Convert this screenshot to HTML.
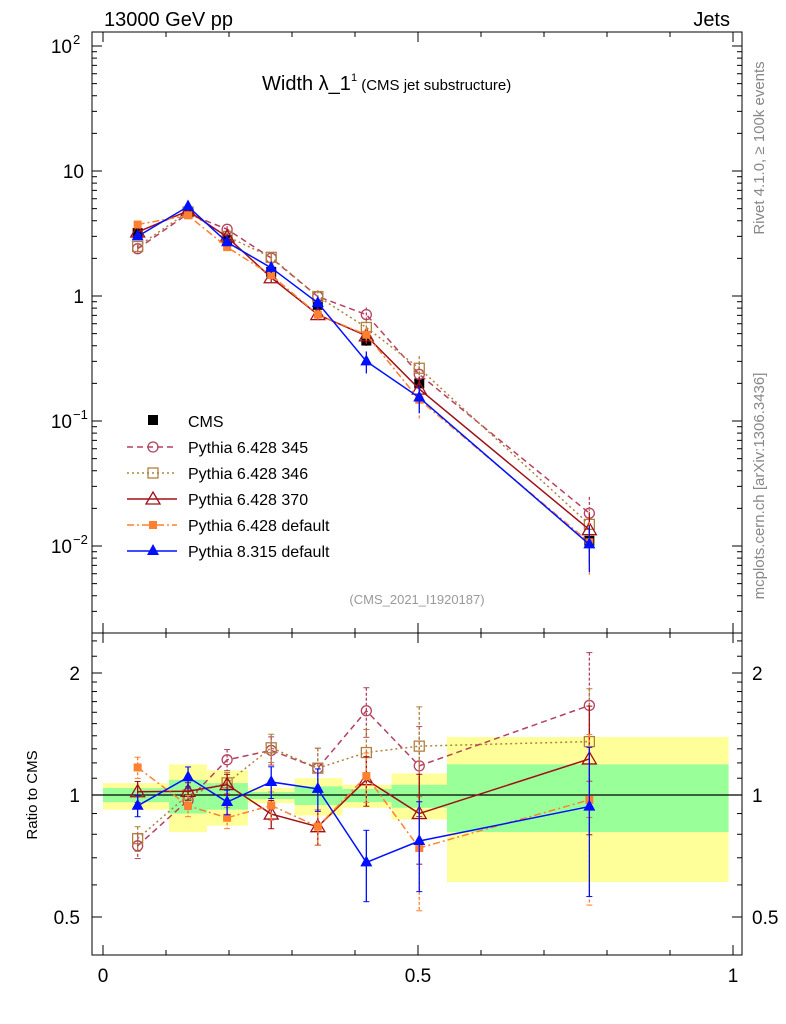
<!DOCTYPE html>
<html><head><meta charset="utf-8"><style>
body{margin:0;background:#fff;}
svg{display:block;font-family:"Liberation Sans","DejaVu Sans",sans-serif;}
</style></head><body>
<svg id="c" width="786" height="1024" viewBox="0 0 786 1024"></svg>
<script>
const xCenters=[0.055,0.135,0.197,0.267,0.341,0.418,0.502,0.772];
const binEdges=[0,0.105,0.165,0.230,0.304,0.380,0.458,0.546,0.993];
const cmsVals=[3.19,4.7,2.8,1.56,0.85,0.44,0.2,0.011];
const cmsErr=[0.15,0.3,0.15,0.06,0.05,0.04,0.02,0.004];
const p345=[2.39,4.56,3.42,2.01,0.99,0.71,0.236,0.0183];
const p346=[2.49,4.7,3.0,2.04,0.99,0.56,0.264,0.0149];
const p370=[3.25,4.8,2.97,1.40,0.71,0.48,0.18,0.0135];
const p6def=[3.73,4.42,2.46,1.47,0.71,0.49,0.148,0.0107];
const p8def=[3.0,5.2,2.69,1.68,0.88,0.30,0.154,0.0103];
const relErr345=[0.07,0.05,0.06,0.08,0.12,0.14,0.25,0.35];
const relErr346=[0.07,0.05,0.06,0.08,0.12,0.14,0.25,0.35];
const relErr370=[0.06,0.05,0.06,0.08,0.1,0.14,0.25,0.35];
const relErr6=[0.06,0.06,0.06,0.08,0.1,0.14,0.3,0.45];
const relErr8=[0.06,0.06,0.07,0.09,0.12,0.2,0.25,0.4];
const yellowHi=[1.07,1.19,1.15,1.04,1.10,1.06,1.13,1.39];
const yellowLo=[0.92,0.81,0.84,0.955,0.89,0.93,0.87,0.61];
const greenHi=[1.04,1.09,1.07,1.017,1.05,1.035,1.06,1.19];
const greenLo=[0.96,0.90,0.92,0.977,0.945,0.96,0.93,0.81];
const mainTicks=["10^-2","10^-1","1","10","10^2"];

const svg=document.getElementById('c');const NS='http://www.w3.org/2000/svg';
function el(t,a,p){const e=document.createElementNS(NS,t);for(const k in a)e.setAttribute(k,a[k]);(p||svg).appendChild(e);return e;}
const X=v=>103+630*v;
const Ym=v=>296-125*Math.log10(v);
const Yr=v=>795-122*Math.log2(v);
const L=92,R=742,T=32,MB=633,RB=955;

// ratio bands
for(let i=0;i<8;i++){
 const y=el('rect',{x:X(binEdges[i]),y:Yr(yellowHi[i]),width:X(binEdges[i+1])-X(binEdges[i]),height:Yr(yellowLo[i])-Yr(yellowHi[i]),fill:'#ffff99'});
 
 const g=el('rect',{x:X(binEdges[i]),y:Yr(greenHi[i]),width:X(binEdges[i+1])-X(binEdges[i]),height:Yr(greenLo[i])-Yr(greenHi[i]),fill:'#99ff99'});
 
}
el('line',{x1:L,x2:R,y1:Yr(1),y2:Yr(1),stroke:'#000','stroke-width':1.2});

// frames
el('rect',{x:L,y:T,width:R-L,height:MB-T,fill:'none',stroke:'#000','stroke-width':1});
el('rect',{x:L,y:MB,width:R-L,height:RB-MB,fill:'none',stroke:'#000','stroke-width':1});

// main log ticks
for(let d=-3;d<=2;d++){for(let m=1;m<10;m++){const v=m*Math.pow(10,d);const y=Ym(v);if(y<T||y>MB)continue;const len=m==1?10:5;
 el('line',{x1:L,x2:L+len,y1:y,y2:y,stroke:'#000'});el('line',{x1:R,x2:R-len,y1:y,y2:y,stroke:'#000'});}}
const labs=[[0.01,'10','−2'],[0.1,'10','−1'],[1,'1',''],[10,'10',''],[100,'10','2']];
labs.forEach(l=>{const t=el('text',{x:l[2]?72:84,y:Ym(l[0])+7,'font-size':19,'text-anchor':'end'});t.textContent=l[1];
 
 if(l[2]){const s=el('text',{x:73,y:Ym(l[0])-2,'font-size':13});s.textContent=l[2];}});
// ratio ticks
[0.5,0.6,0.7,0.8,0.9,1,2].forEach(v=>{const y=Yr(v);const len=(v==0.5||v==1||v==2)?10:5;
 el('line',{x1:L,x2:L+len,y1:y,y2:y,stroke:'#000'});el('line',{x1:R,x2:R-len,y1:y,y2:y,stroke:'#000'});});
for(let k=0;k<12;k++){const v=0.4+0.1*k;}
[1.1,1.2,1.3,1.4,1.5,1.6,1.7,1.8,1.9,2.2,2.4].forEach(v=>{const y=Yr(v);if(y<MB)return;el('line',{x1:L,x2:L+5,y1:y,y2:y,stroke:'#000'});el('line',{x1:R,x2:R-5,y1:y,y2:y,stroke:'#000'});});
[[0.5,'0.5'],[1,'1'],[2,'2']].forEach(l=>{const a=el('text',{x:80,y:Yr(l[0])+7,'font-size':19,'text-anchor':'end'});a.textContent=l[1];
 const b=el('text',{x:752,y:Yr(l[0])+7,'font-size':19});b.textContent=l[1];});
// x ticks
for(let k=0;k<=10;k++){const x=X(k/10);const len=(k%5==0)?10:5;
 el('line',{x1:x,x2:x,y1:MB,y2:MB-len,stroke:'#000'});el('line',{x1:x,x2:x,y1:MB,y2:MB+len,stroke:'#000'});
 el('line',{x1:x,x2:x,y1:RB,y2:RB-len,stroke:'#000'});el('line',{x1:x,x2:x,y1:T,y2:T+len,stroke:'#000'});}
[[0,'0'],[0.5,'0.5'],[1,'1']].forEach(l=>{const t=el('text',{x:X(l[0]),y:982,'font-size':19,'text-anchor':'middle'});t.textContent=l[1];
 });

// texts
function txt(s,a,name){const t=el('text',a);t.textContent=s;return t;}
txt('13000 GeV pp',{x:104,y:26,'font-size':20},'header-beam');
txt('Jets',{x:730,y:26,'font-size':20,'text-anchor':'end'},'header-group');
const tt=txt('',{x:262,y:90,'font-size':20},'plot-title');tt.innerHTML='Width λ_1<tspan font-size="11" dy="-9">1</tspan><tspan font-size="15" dy="9"> (CMS jet substructure)</tspan>';
txt('(CMS_2021_I1920187)',{x:417,y:604,'font-size':13,fill:'#999','text-anchor':'middle'},'analysis-id');
txt('Ratio to CMS',{x:0,y:0,'font-size':15,'text-anchor':'middle',transform:'translate(37,795) rotate(-90)'},'y-axis-title');
txt('Rivet 4.1.0, ≥ 100k events',{x:0,y:0,'font-size':15,fill:'#888','text-anchor':'middle',transform:'translate(764,148) rotate(-90)'},'rivet-label');
txt('mcplots.cern.ch [arXiv:1306.3436]',{x:0,y:0,'font-size':15,fill:'#888','text-anchor':'middle',transform:'translate(764,486) rotate(-90)'},'mcplots-label');

// markers
function marker(kind,x,y,col,g){
 if(kind=='sq')el('rect',{x:x-5,y:y-5,width:10,height:10,fill:col},g);
 else if(kind=='osq')el('rect',{x:x-5,y:y-5,width:10,height:10,fill:'none',stroke:col,'stroke-width':1.3},g);
 else if(kind=='oc')el('circle',{cx:x,cy:y,r:5,fill:'none',stroke:col,'stroke-width':1.3},g);
 else if(kind=='otri')el('path',{d:`M${x},${y-7}L${x+7},${y+5}L${x-7},${y+5}Z`,fill:'none',stroke:col,'stroke-width':1.3},g);
 else if(kind=='ssq')el('rect',{x:x-4,y:y-4,width:8,height:8,fill:col},g);
 else if(kind=='tri')el('path',{d:`M${x},${y-7}L${x+6},${y+4}L${x-6},${y+4}Z`,fill:col},g);
}
const series=[
 {name:'Pythia 6.428 345',vals:p345,err:relErr345,col:'#b5415f',dash:'6,4',m:'oc',sn:'series-p6-345'},
 {name:'Pythia 6.428 346',vals:p346,err:relErr346,col:'#b08040',dash:'2,3',m:'osq',sn:'series-p6-346'},
 {name:'Pythia 6.428 370',vals:p370,err:relErr370,col:'#a01018',dash:'',m:'otri',sn:'series-p6-370'},
 {name:'Pythia 6.428 default',vals:p6def,err:relErr6,col:'#ff8030',dash:'7,3,2,3',m:'ssq',sn:'series-p6-default'},
 {name:'Pythia 8.315 default',vals:p8def,err:relErr8,col:'#0010ff',dash:'',m:'tri',sn:'series-p8-default'}];

// CMS data main
const cg=el('g',{});
cmsVals.forEach((v,i)=>{el('line',{x1:X(xCenters[i]),x2:X(xCenters[i]),y1:Ym(v+cmsErr[i]),y2:Ym(Math.max(v-cmsErr[i],1e-4)),stroke:'#000','stroke-width':1.3},cg);marker('sq',X(xCenters[i]),Ym(v),'#000',cg);});

series.forEach(s=>{
 const g=el('g',{});
 const pm=s.vals.map((v,i)=>X(xCenters[i])+','+Ym(v)).join(' ');
 el('polyline',{points:pm,fill:'none',stroke:s.col,'stroke-width':1.5,'stroke-dasharray':s.dash},g);
 const pr=s.vals.map((v,i)=>X(xCenters[i])+','+Yr(v/cmsVals[i])).join(' ');
 el('polyline',{points:pr,fill:'none',stroke:s.col,'stroke-width':1.5,'stroke-dasharray':s.dash},g);
 s.vals.forEach((v,i)=>{const x=X(xCenters[i]);const e=s.err[i];
  el('line',{x1:x,x2:x,y1:Ym(v*(1+e)),y2:Ym(v*(1-e)),stroke:s.col,'stroke-width':1.3,'stroke-dasharray':s.dash?'3,2':''},g);
  const r=v/cmsVals[i];
  el('line',{x1:x,x2:x,y1:Yr(r*(1+e)),y2:Yr(r*(1-e)),stroke:s.col,'stroke-width':1.3,'stroke-dasharray':s.dash?'3,2':''},g);
  [Yr(r*(1+e)),Yr(r*(1-e))].forEach(yy=>el('line',{x1:x-3,x2:x+3,y1:yy,y2:yy,stroke:s.col},g));
  marker(s.m,x,Ym(v),s.col,g);marker(s.m,x,Yr(r),s.col,g);});
});

// legend
const lg=el('g',{});
marker('sq',153,420,'#000',lg);const lt=el('text',{x:188,y:427,'font-size':16},lg);lt.textContent='CMS';
series.forEach((s,i)=>{const y=447+26*i;
 const e=el('g',{},lg);
 el('line',{x1:127,x2:177,y1:y,y2:y,stroke:s.col,'stroke-width':1.5,'stroke-dasharray':s.dash},e);
 marker(s.m,153,y,s.col,e);const t=el('text',{x:188,y:y+6,'font-size':16},e);t.textContent=s.name;});
</script>
</body></html>
